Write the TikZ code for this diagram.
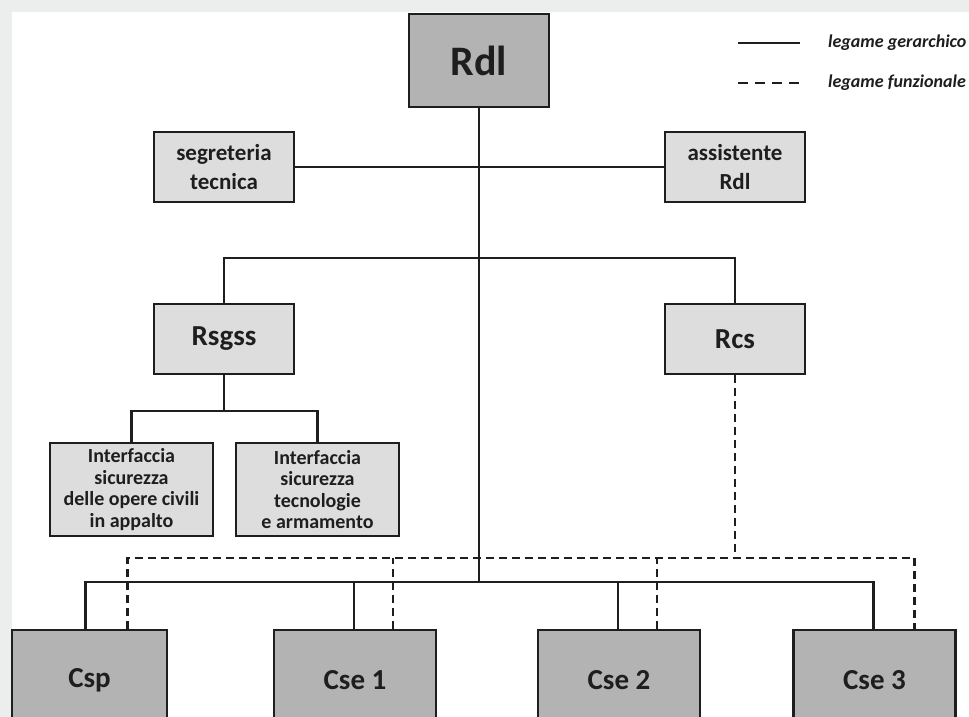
\documentclass[tikz,border=0pt]{standalone}
\usepackage{fontspec}
\setmainfont{Carlito}
\definecolor{pagegray}{HTML}{ECEEEE}
\definecolor{darkbox}{HTML}{B3B3B3}
\definecolor{lightbox}{HTML}{DDDDDD}
\definecolor{ink}{HTML}{1E1E1E}
\begin{document}
\begin{tikzpicture}[x=1pt,y=-1pt,
    box/.style={draw=ink,line width=2.4pt,rectangle,inner sep=0pt,align=center,text=ink},
    chief/.style={box,fill=darkbox,minimum width=140pt,minimum height=93pt,font=\bfseries\fontsize{42}{48}\selectfont},
    staff/.style={box,fill=lightbox,minimum width=140pt,minimum height=70pt,font=\bfseries\fontsize{23}{29}\selectfont},
    unit/.style={box,fill=lightbox,minimum width=140pt,minimum height=70pt,font=\bfseries\fontsize{29}{34}\selectfont},
    iface/.style={box,fill=lightbox,minimum width=163pt,minimum height=93pt,font=\bfseries\fontsize{20}{21.5}\selectfont},
    coord/.style={box,fill=darkbox,minimum width=162pt,minimum height=100pt,font=\bfseries\fontsize{29}{34}\selectfont},
    hier/.style={draw=ink,line width=2.2pt},
    func/.style={draw=ink,line width=2.2pt,dash pattern=on 8pt off 5pt},
    legtext/.style={anchor=west,inner sep=0pt,text=ink,font=\bfseries\itshape\fontsize{18}{21}\selectfont}]
    \useasboundingbox (0,0) rectangle (969,717);
    \fill[pagegray] (0,0) rectangle (969,717);
    \fill[white] (12,12) rectangle (969,717);

    % legenda
    \coordinate (legA) at (738,43);
    \coordinate (legB) at (800,43);
    \coordinate (legC) at (738,83);
    \coordinate (legD) at (799,83);
    \draw[hier] (legA) -- (legB);
    \draw[func,dash pattern=on 10pt off 7pt] (legC) -- (legD);
    \node[legtext] (legH) at (828,43) {legame gerarchico};
    \node[legtext] (legF) at (828,83) {legame funzionale};

    \node[chief] (rdl) at (479,60.5) {Rdl};
    \node[staff] (segr) at (224,167) {segreteria\\tecnica};
    \node[staff] (assist) at (735,167) {assistente\\Rdl};
    \node[unit] (rsgss) at (224,339) {Rsgss};
    \node[unit] (rcs) at (735,339) {Rcs};
    \node[iface] (ifOC) at (131.5,489.5) {Interfaccia\\sicurezza\\delle opere civili\\in appalto};
    \node[iface] (ifTA) at (317.5,489.5) {Interfaccia\\sicurezza\\tecnologie\\e armamento};
    \node[coord,minimum width=155pt] (csp) at (89.5,680) {Csp};
    \node[coord] (cse1) at (355,680) {Cse 1};
    \node[coord] (cse2) at (619,680) {Cse 2};
    \node[coord] (cse3) at (874.5,680) {Cse 3};

    \coordinate (lev2) at (479,258);
    \coordinate (lev3) at (224,411);
    \coordinate (bus) at (479,582);
    \coordinate (fbus) at (735,558);

    % legami gerarchici
    \draw[hier] (rdl.south) -- (bus);
    \draw[hier] (segr.east) -- (assist.west);
    \draw[hier] (rsgss.north) |- (lev2) -| (rcs.north);
    \draw[hier] (rsgss.south) -- (lev3);
    \draw[hier] (ifOC.north) |- (lev3) -| (ifTA.north);
    \draw[hier] ([xshift=-4pt]csp.north) |- (bus) -| ([xshift=-1pt]cse3.north);
    \foreach \c in {cse1,cse2}
        \draw[hier] ([xshift=-1pt]\c.north) -- ([xshift=-1pt]\c.north |- bus);

    % legami funzionali
    \draw[func] (rcs.south) -- (fbus);
    \draw[func] ([xshift=38pt]csp.north) |- (fbus) -| ([xshift=40pt]cse3.north);
    \foreach \c in {cse1,cse2}
        \draw[func] ([xshift=38pt]\c.north) -- ([xshift=38pt]\c.north |- fbus);
\end{tikzpicture}
\end{document}
